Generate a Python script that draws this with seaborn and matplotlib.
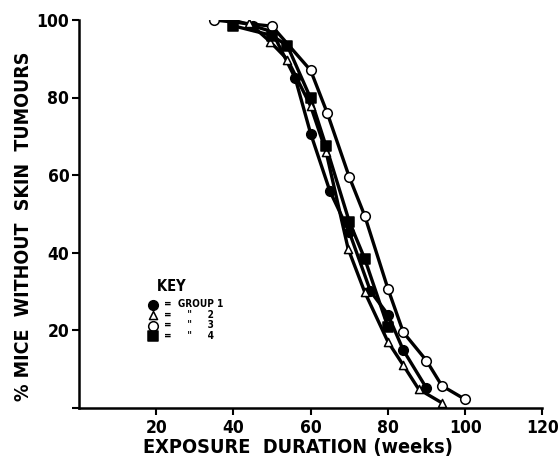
import matplotlib
matplotlib.use('Agg')
from matplotlib import pyplot as plt
import seaborn as sb
import pandas as pd

# values: weeks of exposure vs % mice still tumour free
g1_weeks = [40, 45, 50, 56, 60, 65, 70, 75.5, 80, 84, 90]
g1_pct = [100, 98.5, 97, 85, 70.7, 55.8, 45.3, 30, 24, 14.8, 5]
g2_weeks = [44, 49.5, 54, 60, 64, 69.7, 74, 80, 84, 88, 94]
g2_pct = [99.3, 94.4, 89.8, 77.8, 66, 41, 29.8, 17, 10.9, 4.7, 1.2]
g3_weeks = [35, 50, 60, 64.3, 70, 74, 80, 84, 90, 94, 100]
g3_pct = [100, 98.4, 87, 76, 59.5, 49.5, 30.7, 19.4, 12.1, 5.6, 2.1]
g4_weeks = [40, 50, 54, 60, 64, 70, 74, 80]
g4_pct = [98.5, 96, 93.3, 79.8, 67.4, 48, 38.4, 20.8]

group_labels = ['=  GROUP 1', '=     "     2', '=     "     3', '=     "     4']
x_ticks = [20, 40, 60, 80, 100, 120]
y_ticks = [20, 40, 60, 80, 100]

sb.set_style('ticks')
plt.rcParams['font.family'] = ['DejaVu Sans']
plt.rcParams['font.stretch'] = 'condensed'
plt.rcParams['font.weight'] = 'bold'
plt.rcParams['text.color'] = 'black'
plt.rcParams['axes.labelcolor'] = 'black'
plt.rcParams['xtick.color'] = 'black'
plt.rcParams['ytick.color'] = 'black'

fig = plt.figure(figsize=(5.58, 4.58), dpi=100)
ax = fig.add_axes([79 / 558, 50.5 / 458, 463.3 / 558, 387.5 / 458])

groups = [
    (g1_weeks, g1_pct, 'o', 'black', 48),
    (g2_weeks, g2_pct, '^', 'white', 34),
    (g3_weeks, g3_pct, 'o', 'white', 48),
    (g4_weeks, g4_pct, 's', 'black', 44),
]

for (wk, pct, mk, face, size), lab in zip(groups, group_labels):
    df = pd.DataFrame({'weeks': wk, 'pct': pct})
    sb.lineplot(data=df, x='weeks', y='pct', ax=ax, color='black', lw=2.4, zorder=2)
    sb.scatterplot(data=df, x='weeks', y='pct', ax=ax, marker=mk, s=size, color=face,
                   edgecolor='black', linewidth=1.1, zorder=3, label=lab)

ax.set_xlim(0, 120)
ax.set_ylim(0, 100)
ax.set_xticks(x_ticks)
ax.set_yticks([0] + y_ticks)
ax.set_yticklabels([''] + [str(v) for v in y_ticks])
ax.tick_params(axis='both', labelsize=12.5, width=1.5, length=5, pad=2)
ax.tick_params(axis='x', pad=3)
for s in ['left', 'bottom']:
    ax.spines[s].set_linewidth(1.8)
    ax.spines[s].set_color('black')
sb.despine(ax=ax)

ax.set_xlabel('EXPOSURE  DURATION (weeks)', fontsize=14.3, fontweight='bold')
ax.set_ylabel('% MICE  WITHOUT  SKIN  TUMOURS', fontsize=14, fontweight='bold')
ax.xaxis.set_label_coords(0.472, -0.078)
ax.yaxis.set_label_coords(-0.1, 0.468)

leg = ax.legend(loc='upper left', bbox_to_anchor=(0.127, 0.345), frameon=False, title='   KEY',
                fontsize=7.2, title_fontproperties={'weight': 'bold', 'size': 10.5},
                handletextpad=0.1, labelspacing=0.05, borderpad=0, alignment='left',
                markerscale=1.0)
leg._legend_box.sep = 4

plt.savefig('out.png', dpi=100)
